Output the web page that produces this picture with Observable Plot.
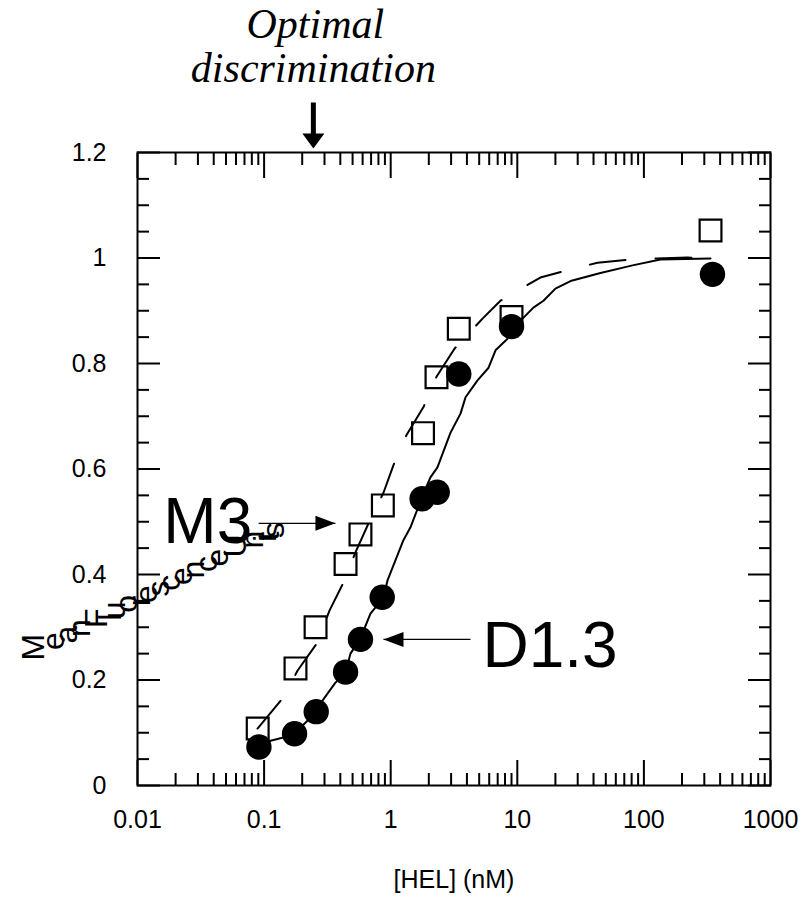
<!DOCTYPE html>
<html><head><meta charset="utf-8">
<script src="https://cdn.jsdelivr.net/npm/d3@7"></script>
<script src="https://cdn.jsdelivr.net/npm/@observablehq/plot@0.6"></script>
<style>body{margin:0;background:#fff}</style>
</head><body><div id="chart"></div>
<script>
// ---- data ----
const m3Conc   = [0.089, 0.177, 0.255, 0.44, 0.577, 0.867, 1.80, 2.30, 3.45, 9.0, 336];
const m3Signal = [0.108, 0.222, 0.300, 0.420, 0.476, 0.531, 0.668, 0.774, 0.866, 0.888, 1.052];
const d13Conc   = [0.091, 0.174, 0.258, 0.44, 0.577, 0.857, 1.77, 2.33, 3.45, 9.0, 348];
const d13Signal = [0.073, 0.098, 0.140, 0.215, 0.277, 0.357, 0.5435, 0.556, 0.780, 0.870, 0.969];

const m3FitConc   = [0.0887, 0.142, 0.184, 0.264, 0.329, 0.424, 0.527, 0.668, 0.877, 1.05, 1.33, 1.82, 2.30, 3.19, 5.31, 7.36, 15.2, 25.8, 43.0, 75.5, 126, 221, 336];
const m3FitSignal = [0.108, 0.167, 0.218, 0.271, 0.332, 0.385, 0.442, 0.497, 0.555, 0.607, 0.664, 0.718, 0.775, 0.828, 0.885, 0.919, 0.963, 0.978, 0.991, 0.997, 0.999, 1.001, 0.999];

const d13FitConc   = [0.0904, 0.1125, 0.142, 0.174, 0.212, 0.259, 0.289, 0.366, 0.440, 0.481, 0.577, 0.692, 0.877, 0.944, 1.26, 1.43, 1.82, 2.06, 2.34, 2.57, 2.97, 3.56, 3.90, 4.85, 5.93, 6.73, 8.37, 9.00, 11.2, 13.4, 16.1, 20.0, 26.8, 44.6, 81.3, 135, 336];
const d13FitSignal = [0.070, 0.085, 0.091, 0.099, 0.119, 0.140, 0.161, 0.195, 0.214, 0.250, 0.279, 0.326, 0.356, 0.389, 0.465, 0.489, 0.554, 0.584, 0.603, 0.629, 0.669, 0.705, 0.736, 0.768, 0.792, 0.825, 0.847, 0.870, 0.887, 0.906, 0.919, 0.942, 0.957, 0.971, 0.986, 0.997, 0.999];

const xMajor = [0.01, 0.1, 1, 10, 100, 1000];
const xTickLabels = ["0.01", "0.1", "1", "10", "100", "1000"];
const xMinorMult = [2, 3, 4, 5, 6, 7, 8, 9];
const yMajor = [0, 0.2, 0.4, 0.6, 0.8, 1, 1.2];
const yTickLabels = ["0", "0.2", "0.4", "0.6", "0.8", "1", "1.2"];
const yMinorStep = 0.05;

const xTitle = "[HEL] (nM)";
const yTitle = "Mean Fluorescence Units";
const titleLines = ["Optimal", "discrimination"];
const optimalConc = [0.245];
const yTitleAnchor = [{x: 0.00181, y: 0.237}];
const seriesLabels = [{text: "M3", x: 0.016, y: 0.459}, {text: "D1.3", x: 5.31, y: 0.224}];
const m3Pointer = [{x1: 0.0905, x2: 0.366, y: 0.497}];
const d13Pointer = [{x1: 4.27, x2: 0.877, y: 0.277}];

// ---- derived tables ----
const m3 = m3Conc.map((c, i) => ({c, s: m3Signal[i]}));
const d13 = d13Conc.map((c, i) => ({c, s: d13Signal[i]}));
const m3Fit = m3FitConc.map((c, i) => ({c, s: m3FitSignal[i]}));
const d13Fit = d13FitConc.map((c, i) => ({c, s: d13FitSignal[i]}));
const xMinor = xMajor.slice(0, -1).flatMap(d => xMinorMult.map(m => +(d * m).toPrecision(3)));
const yMinor = d3.range(0, 1.2001, yMinorStep).map(v => +v.toFixed(2)).filter(v => !yMajor.some(m => Math.abs(m - v) < 1e-9));

const font = "'Liberation Sans', Arial, sans-serif";
const serif = "'Liberation Serif', 'Times New Roman', serif";
const headRight = {draw(ctx) { ctx.moveTo(0, 0); ctx.lineTo(-20, -7.5); ctx.lineTo(-20, 7.5); ctx.closePath(); }};
const headLeft = {draw(ctx) { ctx.moveTo(0, 0); ctx.lineTo(20, -7.5); ctx.lineTo(20, 7.5); ctx.closePath(); }};
const downArrow = {draw(ctx) {
  ctx.moveTo(0, 0); ctx.lineTo(-11, -15); ctx.lineTo(-2.5, -15); ctx.lineTo(-2.5, -46);
  ctx.lineTo(2.5, -46); ctx.lineTo(2.5, -15); ctx.lineTo(11, -15); ctx.closePath();
}};
const none = () => "";

const chart = Plot.plot({
  width: 801, height: 898,
  marginLeft: 137, marginRight: 31, marginTop: 152, marginBottom: 113,
  style: {fontFamily: font, fontSize: "25px", color: "black", background: "white"},
  x: {type: "log", domain: [0.01, 1000]},
  y: {domain: [0, 1.2]},
  marks: [
    Plot.frame({strokeWidth: 2, stroke: "black"}),
    // x ticks (bottom & top), inward
    Plot.axisX(xMinor, {anchor: "bottom", tickSize: -12, tickFormat: none, strokeWidth: 2, label: null}),
    Plot.axisX(xMinor, {anchor: "top", tickSize: -12, tickFormat: none, strokeWidth: 2, label: null}),
    Plot.axisX(xMajor, {anchor: "bottom", tickSize: -25, tickPadding: 50, strokeWidth: 2, label: null,
      tickFormat: d => xTickLabels[xMajor.indexOf(d)], fontSize: 25}),
    Plot.axisX(xMajor, {anchor: "top", tickSize: -25, tickFormat: none, strokeWidth: 2, label: null}),
    // y ticks (left & right), inward
    Plot.axisY(yMinor, {anchor: "left", tickSize: -12, tickFormat: none, strokeWidth: 2, label: null}),
    Plot.axisY(yMinor, {anchor: "right", tickSize: -12, tickFormat: none, strokeWidth: 2, label: null}),
    Plot.axisY(yMajor, {anchor: "left", tickSize: -23, tickPadding: 54, strokeWidth: 2, label: null,
      tickFormat: d => yTickLabels[yMajor.indexOf(d)], fontSize: 25}),
    Plot.axisY(yMajor, {anchor: "right", tickSize: -23, tickFormat: none, strokeWidth: 2, label: null}),
    // fitted curves
    Plot.line(m3Fit, {x: "c", y: "s", stroke: "black", strokeWidth: 2, strokeDasharray: "36,30"}),
    Plot.line(d13Fit, {x: "c", y: "s", stroke: "black", strokeWidth: 2}),
    // data points
    Plot.dot(m3, {x: "c", y: "s", symbol: "square", r: 12.3, fill: "none", stroke: "black", strokeWidth: 2.2}),
    Plot.dot(d13, {x: "c", y: "s", symbol: "circle", r: 12.7, fill: "black", stroke: "none"}),
    // series labels and pointers
    Plot.text(seriesLabels, {x: "x", y: "y", text: "text", textAnchor: "start", lineAnchor: "bottom", fontSize: 64, fill: "black"}),
    Plot.link(m3Pointer, {x1: "x1", x2: "x2", y1: "y", y2: "y", stroke: "black", strokeWidth: 1.3}),
    Plot.dot(m3Pointer, {x: "x2", y: "y", symbol: headRight, fill: "black", stroke: "none"}),
    Plot.link(d13Pointer, {x1: "x1", x2: "x2", y1: "y", y2: "y", stroke: "black", strokeWidth: 1.3}),
    Plot.dot(d13Pointer, {x: "x2", y: "y", symbol: headLeft, fill: "black", stroke: "none"}),
    // optimal discrimination annotation
    Plot.dot(optimalConc, {x: d => d, frameAnchor: "top", dy: -4, symbol: downArrow, fill: "black", stroke: "none"}),
    Plot.text(optimalConc, {x: d => d, frameAnchor: "top", dy: -115, dx: 2, text: () => titleLines[0], lineAnchor: "bottom",
      fontSize: 42, fontStyle: "italic", fontFamily: serif, fill: "black"}),
    Plot.text(optimalConc, {x: d => d, frameAnchor: "top", dy: -71, text: () => titleLines[1], lineAnchor: "bottom",
      fontSize: 42, fontStyle: "italic", fontFamily: serif, fill: "black"}),
    // axis titles
    Plot.text([xTitle], {frameAnchor: "bottom", dy: 102, text: d => d, fontSize: 25, fill: "black"}),
    Plot.text(yTitleAnchor, {x: "x", y: "y", text: () => yTitle, rotate: -27, textAnchor: "start", lineAnchor: "bottom", fontSize: 32, fill: "black"})
  ]
});

chart.querySelectorAll("text").forEach(t => {
  if (t.textContent === yTitle) {
    t.setAttribute("rotate", "-63");
    t.style.letterSpacing = "-3.5px";
  }
});
document.getElementById("chart").appendChild(chart);
</script>
</body></html>
